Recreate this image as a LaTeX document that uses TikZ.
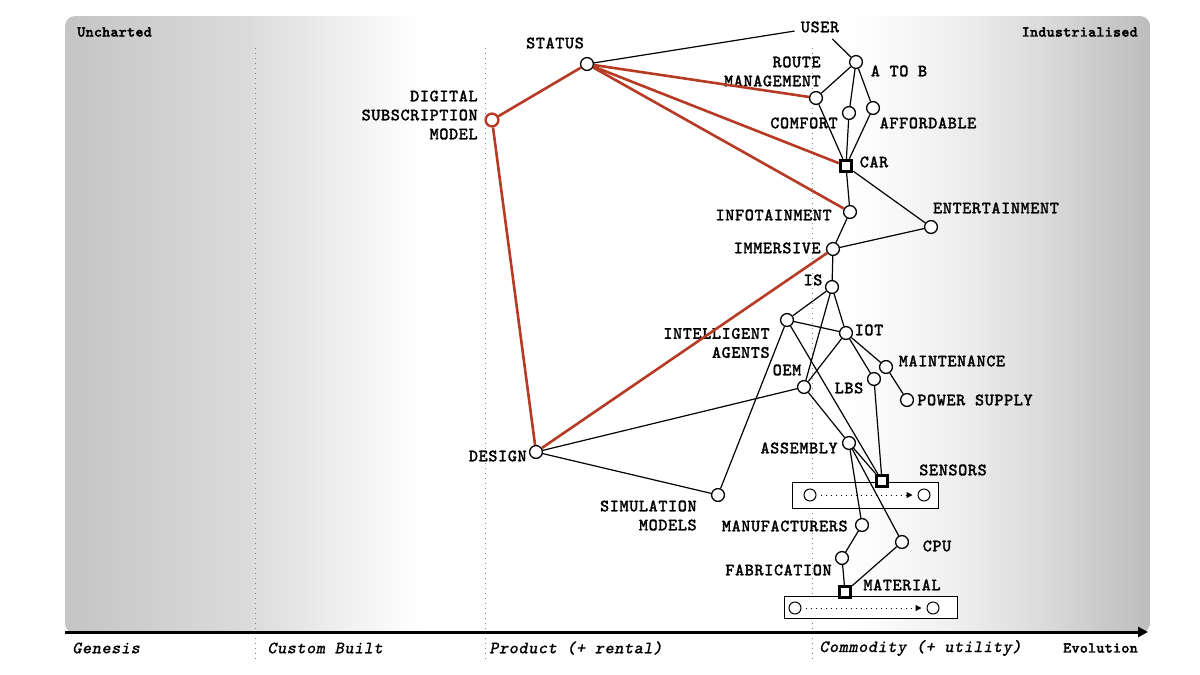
\documentclass[tikz,border=0pt]{standalone}
\usepackage{fontspec}
\newfontfamily\wmono[FakeBold=1.7, LetterSpace=4]{Latin Modern Mono}
\newfontfamily\wmonosl[FakeSlant=0.2, FakeBold=1, LetterSpace=4]{Latin Modern Mono}
\newfontfamily\wmonob[FakeBold=3, LetterSpace=3]{Latin Modern Mono}
\usetikzlibrary{arrows.meta}
\definecolor{wred}{RGB}{183,58,36}
\definecolor{gA}{gray}{0.77}
\definecolor{gB}{gray}{0.86}
\definecolor{gC}{gray}{0.93}
\definecolor{gD}{gray}{0.94}
\definecolor{gE}{gray}{0.85}
\definecolor{gF}{gray}{0.74}
\pgfdeclarehorizontalshading{wardleybg}{100bp}{color(0bp)=(gA); color(25bp)=(gA); color(33.5bp)=(gB); color(37.2bp)=(gC); color(41.4bp)=(white); color(61.2bp)=(white); color(65.8bp)=(gD); color(70.4bp)=(gE); color(75bp)=(gF); color(100bp)=(gF)}
\newcommand\wmlbl{\wmono\fontsize{8.6}{9.5}\selectfont}
\begin{document}
\begin{tikzpicture}[x=0.5pt,y=-0.5pt,
  comp/.style={circle, draw=black, fill=white, line width=0.65pt, minimum size=6.4pt, inner sep=0pt},
  redcomp/.style={circle, draw=wred, fill=white, line width=1.2pt, minimum size=6.4pt, inner sep=0pt},
  sqcomp/.style={rectangle, draw=black, fill=white, line width=1.4pt, minimum size=5.8pt, inner sep=0pt},
  evcirc/.style={circle, draw=black, fill=white, line width=0.5pt, minimum size=6pt, inner sep=0pt},
  evbox/.style={rectangle, draw=black, fill=white, line width=0.5pt, inner sep=0pt},
  lbl/.style={font=\wmlbl, inner sep=0pt},
  axlbl/.style={font=\wmonosl\fontsize{8.6}{9.5}\selectfont, inner sep=0pt},
  cornerlbl/.style={font=\wmonob\fontsize{7.4}{8}\selectfont, inner sep=0pt},
  wedge/.style={draw=black, line width=0.6pt},
  redge/.style={draw=wred, line width=1.3pt},
  evarrow/.style={dotted, line width=0.5pt, -{Triangle[length=3pt,width=3pt]}, shorten >=2.5pt, shorten <=2pt},
  divider/.style={draw=gray, dotted, line width=0.5pt}
]
\useasboundingbox (0,0) rectangle (1200,675);
\fill[white] (0,0) rectangle (1200,675);
\shade[shading=wardleybg, rounded corners=5pt] (65,16) rectangle (1150,633);

% stage dividers
\draw[divider] (255,48) -- (255,662);
\draw[divider] (485,48) -- (485,662);
\draw[divider] (812,48) -- (812,662);

% axis
\draw[line width=1.5pt, -{Triangle[length=5pt,width=5pt]}] (65,632) -- (1148,632);
\node[axlbl, anchor=west] (ax1) at (72,648) {Genesis};
\node[axlbl, anchor=west] (ax2) at (267,648) {Custom Built};
\node[axlbl, anchor=west] (ax3) at (489,648) {Product (+ rental)};
\node[axlbl, anchor=west] (ax4) at (819,648) {Commodity (+ utility)};
\node[cornerlbl, anchor=east] (evo) at (1138,648) {Evolution};
\node[cornerlbl, anchor=west] (unch) at (77,32) {Uncharted};
\node[cornerlbl, anchor=east] (indu) at (1138,32) {Industrialised};

% evolution boxes
\node[evbox, minimum width=73pt, minimum height=13pt] (sbox) at (865,495) {};
\node[evcirc] (s1) at (810,495) {};
\node[evcirc] (s2) at (924,495) {};
\draw[evarrow] (s1) -- (s2);
\node[evbox, minimum width=86.5pt, minimum height=11pt] (mbox) at (870.5,607) {};
\node[evcirc] (m1) at (795,608) {};
\node[evcirc] (m2) at (933,608) {};
\draw[evarrow] (m1) -- (m2);

% labels
\node[lbl] (statusl) at (555,43) {STATUS};
\node[lbl, inner sep=3pt] (user) at (820,27) {USER};
\node[lbl, align=right, anchor=east] (dsml) at (478,115) {DIGITAL\\SUBSCRIPTION\\MODEL};
\node[lbl, align=right, anchor=east] (routel) at (821,71.5) {ROUTE\\MANAGEMENT};
\node[lbl] (atobl) at (899,71) {A TO B};
\node[lbl] (comfortl) at (804,123) {COMFORT};
\node[lbl] (affordl) at (928,123) {AFFORDABLE};
\node[lbl] (carl) at (874,162) {CAR};
\node[lbl, anchor=east] (infotl) at (832,215) {INFOTAINMENT};
\node[lbl] (entertl) at (996,208) {ENTERTAINMENT};
\node[lbl, anchor=east] (immersl) at (821,248) {IMMERSIVE};
\node[lbl] (isl) at (813,280) {IS};
\node[lbl, align=right, anchor=east] (agentsl) at (770,343) {INTELLIGENT\\AGENTS};
\node[lbl] (iotl) at (869,330) {IOT};
\node[lbl] (maintl) at (952,361) {MAINTENANCE};
\node[lbl] (lbsl) at (849,388) {LBS};
\node[lbl] (oeml) at (787,370) {OEM};
\node[lbl, anchor=west] (powerl) at (917,400) {POWER SUPPLY};
\node[lbl, anchor=east] (assemblyl) at (838,448) {ASSEMBLY};
\node[lbl] (sensorsl) at (953,470) {SENSORS};
\node[lbl, anchor=east] (designl) at (527,456) {DESIGN};
\node[lbl, align=right, anchor=east] (siml) at (697,515.5) {SIMULATION\\MODELS};
\node[lbl, anchor=east] (manufl) at (848,526) {MANUFACTURERS};
\node[lbl] (cpul) at (937,546) {CPU};
\node[lbl, anchor=east] (fabl) at (832,570) {FABRICATION};
\node[lbl] (materiall) at (902,585) {MATERIAL};

% components
\node[comp] (status) at (587,64) {};
\node[redcomp] (dsm) at (492,120) {};
\node[comp] (routem) at (816,98) {};
\node[comp] (atob) at (856,62) {};
\node[comp] (comfort) at (849,113) {};
\node[comp] (afford) at (873,108) {};
\node[sqcomp] (car) at (846,166) {};
\node[comp] (infot) at (850,212) {};
\node[comp] (entert) at (931,227) {};
\node[comp] (immers) at (833,249) {};
\node[comp] (is) at (832,287) {};
\node[comp] (agents) at (787,320) {};
\node[comp] (iot) at (846,333) {};
\node[comp] (maint) at (886,367) {};
\node[comp] (lbs) at (874,379) {};
\node[comp] (oem) at (804,387) {};
\node[comp] (power) at (907,400) {};
\node[comp] (assembly) at (849,443) {};
\node[sqcomp] (sensors) at (882,481) {};
\node[comp] (design) at (536,452) {};
\node[comp] (sim) at (718,495) {};
\node[comp] (manuf) at (862,525) {};
\node[comp] (cpu) at (902,542) {};
\node[comp] (fab) at (842,558) {};
\node[sqcomp] (material) at (845,592) {};

% black links
\draw[wedge] (status) -- (user);
\draw[wedge] (user) -- (atob);
\draw[wedge] (atob) -- (routem);
\draw[wedge] (atob) -- (comfort);
\draw[wedge] (atob) -- (afford);
\draw[wedge] (routem) -- (car);
\draw[wedge] (comfort) -- (car);
\draw[wedge] (afford) -- (car);
\draw[wedge] (car) -- (infot);
\draw[wedge] (car) -- (entert);
\draw[wedge] (infot) -- (immers);
\draw[wedge] (entert) -- (immers);
\draw[wedge] (immers) -- (is);
\draw[wedge] (is) -- (agents);
\draw[wedge] (is) -- (iot);
\draw[wedge] (is) -- (oem);
\draw[wedge] (agents) -- (iot);
\draw[wedge] (agents) -- (sim);
\draw[wedge] (agents) -- (sensors);
\draw[wedge] (iot) -- (oem);
\draw[wedge] (iot) -- (lbs);
\draw[wedge] (iot) -- (maint);
\draw[wedge] (maint) -- (power);
\draw[wedge] (lbs) -- (sensors);
\draw[wedge] (oem) -- (assembly);
\draw[wedge] (oem) -- (design);
\draw[wedge] (design) -- (sim);
\draw[wedge] (assembly) -- (sensors);
\draw[wedge] (assembly) -- (manuf);
\draw[wedge] (assembly) -- (cpu);
\draw[wedge] (manuf) -- (fab);
\draw[wedge] (fab) -- (material);
\draw[wedge] (cpu) -- (material);

% red links
\draw[redge] (status) -- (dsm);
\draw[redge] (status) -- (routem);
\draw[redge] (status) -- (car);
\draw[redge] (status) -- (infot);
\draw[redge] (dsm) -- (design);
\draw[redge] (design) -- (immers);
\end{tikzpicture}
\end{document}
